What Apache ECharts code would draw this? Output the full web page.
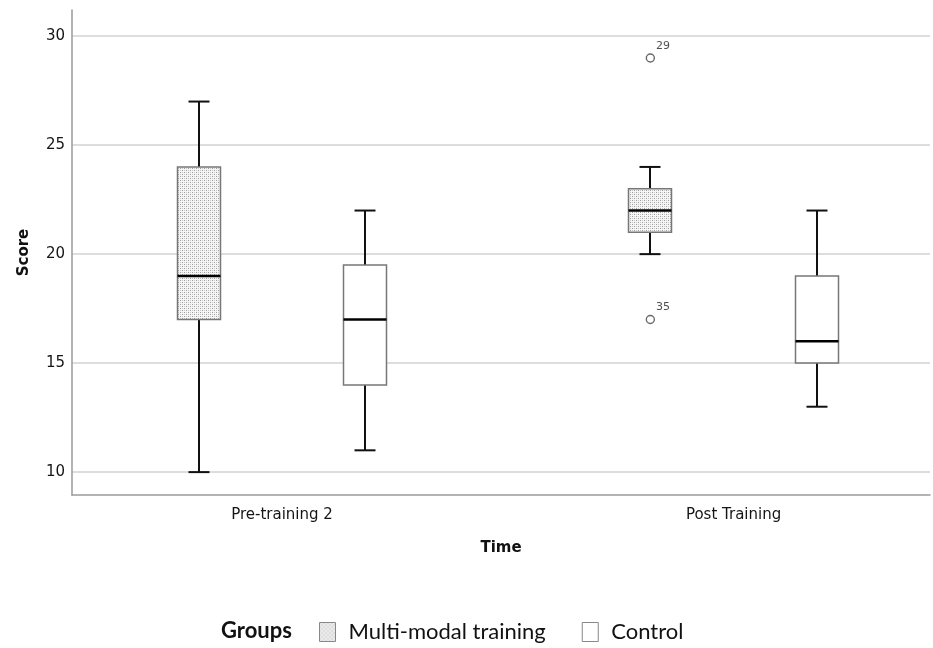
<!DOCTYPE html>
<html>
<head>
<meta charset="utf-8">
<script src="https://cdn.jsdelivr.net/npm/echarts@6/dist/echarts.min.js"></script>
<style>
  html, body { margin: 0; padding: 0; background: #ffffff; }
  #chart { width: 933px; height: 648px; }
</style>
</head>
<body>
<div id="chart"></div>
<script>
// Time points on the horizontal axis
const timeLabels = ['Pre-training 2', 'Post Training'];
// Group names
const groupNames = ['Multi-modal training', 'Control'];
// Five-number summaries per time point: [lower whisker, Q1, median, Q3, upper whisker]
const multiModalStats = [[10, 17, 19, 24, 27], [20, 21, 22, 23, 24]];
const controlStats = [[11, 14, 17, 19.5, 22], [13, 15, 16, 19, 22]];
// Outliers of the multi-modal group: [time index, score, case number]
const multiModalOutliers = [[1, 29, '29'], [1, 17, '35']];
// Score axis ticks
const scoreTicks = [10, 15, 20, 25, 30];

// Layout constants (axis units / pixels)
const GROUP_OFFSET = 0.1843;   // distance of each box from its time point
const BOX_HALF = 21.5;         // half box width, px
const CAP_HALF = 10.5;         // half whisker cap width, px
const AXIS_FONT = 'DejaVu Sans';

// Stippled fill used for the multi-modal boxes
function makeStipple() {
  const c = document.createElement('canvas');
  c.width = 4; c.height = 4;
  const g = c.getContext('2d');
  g.fillStyle = '#f6f6f6';
  g.fillRect(0, 0, 4, 4);
  g.fillStyle = '#9c9c9c';
  g.fillRect(0, 0, 1, 1);
  g.fillRect(2, 2, 1, 1);
  g.fillStyle = '#c9c9c9';
  g.fillRect(2, 0, 1, 1);
  g.fillRect(0, 2, 1, 1);
  return c;
}
const stipple = { type: 'pattern', image: makeStipple(), repeat: 'repeat' };

function toRows(stats) {
  return stats.map((s, i) => [i].concat(s));
}

function boxRenderer(offset, fill) {
  return function (params, api) {
    const x = api.value(0) + offset;
    const pMin = api.coord([x, api.value(1)]);
    const pQ1 = api.coord([x, api.value(2)]);
    const pMed = api.coord([x, api.value(3)]);
    const pQ3 = api.coord([x, api.value(4)]);
    const pMax = api.coord([x, api.value(5)]);
    const cx = Math.round(pMed[0]);
    const whisker = { stroke: '#111111', lineWidth: 2 };
    return {
      type: 'group',
      children: [
        { type: 'line', shape: { x1: cx, y1: pQ3[1], x2: cx, y2: pMax[1] }, style: whisker },
        { type: 'line', shape: { x1: cx, y1: pQ1[1], x2: cx, y2: pMin[1] }, style: whisker },
        { type: 'line', shape: { x1: cx - CAP_HALF, y1: pMax[1], x2: cx + CAP_HALF, y2: pMax[1] }, style: whisker },
        { type: 'line', shape: { x1: cx - CAP_HALF, y1: pMin[1], x2: cx + CAP_HALF, y2: pMin[1] }, style: whisker },
        {
          type: 'rect',
          shape: { x: cx - BOX_HALF, y: pQ3[1], width: BOX_HALF * 2, height: pQ1[1] - pQ3[1] },
          style: { fill: fill, stroke: '#777777', lineWidth: 1.5 }
        },
        {
          type: 'line',
          shape: { x1: cx - BOX_HALF, y1: pMed[1], x2: cx + BOX_HALF, y2: pMed[1] },
          style: { stroke: '#000000', lineWidth: 2.5 }
        }
      ]
    };
  };
}

const chart = echarts.init(document.getElementById('chart'), null, { renderer: 'canvas' });

const option = {
  backgroundColor: '#ffffff',
  animation: false,
  title: {
    text: 'Groups',
    left: 221,
    top: 620,
    padding: 0,
    textStyle: { fontFamily: 'Lato', fontWeight: 'bold', fontSize: 22, color: '#111111' }
  },
  legend: {
    left: 319,
    top: 621,
    padding: 0,
    itemWidth: 16,
    itemHeight: 19,
    itemGap: 36,
    textStyle: { fontFamily: 'Lato', fontSize: 22, color: '#111111', padding: [0, 0, 0, 8] },
    data: [
      { name: groupNames[0], icon: 'rect', itemStyle: { color: stipple, borderColor: '#888888', borderWidth: 1 } },
      { name: groupNames[1], icon: 'rect', itemStyle: { color: '#ffffff', borderColor: '#888888', borderWidth: 1 } }
    ]
  },
  grid: { left: 72, right: 3, top: 10, bottom: 153, outerBoundsMode: 'none' },
  xAxis: {
    type: 'value',
    min: -0.465,
    max: 1.435,
    name: 'Time',
    nameLocation: 'middle',
    nameGap: 46,
    nameTextStyle: { fontFamily: AXIS_FONT, fontWeight: 'bold', fontSize: 15, color: '#111111' },
    axisLine: { show: true, onZero: false, lineStyle: { color: '#9a9a9a', width: 1.5 } },
    axisTick: { show: false },
    splitLine: { show: false },
    axisLabel: {
      customValues: timeLabels.map((_, i) => i),
      formatter: v => timeLabels[Math.round(v)],
      margin: 13,
      fontFamily: AXIS_FONT,
      fontSize: 15,
      color: '#151515'
    }
  },
  yAxis: {
    type: 'value',
    min: 8.95,
    max: 31.2,
    name: 'Score',
    nameLocation: 'middle',
    nameGap: 40,
    nameTextStyle: { fontFamily: AXIS_FONT, fontWeight: 'bold', fontSize: 15, color: '#111111' },
    axisLine: { show: true, onZero: false, lineStyle: { color: '#9a9a9a', width: 1.5 } },
    axisTick: { show: false, customValues: scoreTicks },
    splitLine: { show: true, lineStyle: { color: '#d2d2d2', width: 1.5 } },
    axisLabel: {
      customValues: scoreTicks,
      margin: 7,
      fontFamily: AXIS_FONT,
      fontSize: 15,
      color: '#151515'
    }
  },
  series: [
    {
      name: groupNames[0],
      type: 'custom',
      renderItem: boxRenderer(-GROUP_OFFSET, stipple),
      encode: { x: 0, y: [1, 2, 3, 4, 5] },
      itemStyle: { color: stipple },
      data: toRows(multiModalStats),
      z: 3
    },
    {
      name: groupNames[1],
      type: 'custom',
      renderItem: boxRenderer(GROUP_OFFSET, '#ffffff'),
      encode: { x: 0, y: [1, 2, 3, 4, 5] },
      itemStyle: { color: '#ffffff' },
      data: toRows(controlStats),
      z: 3
    },
    {
      name: groupNames[0] + ' outliers',
      type: 'scatter',
      symbol: 'circle',
      symbolSize: 8,
      itemStyle: { color: '#ffffff', borderColor: '#444444', borderWidth: 1.4 },
      label: {
        show: true,
        position: 'right',
        offset: [-4, -12],
        formatter: p => p.value[2],
        fontFamily: AXIS_FONT,
        fontSize: 11,
        color: '#222222'
      },
      data: multiModalOutliers.map(o => [o[0] - GROUP_OFFSET, o[1], o[2]]),
      z: 4
    }
  ]
};

chart.setOption(option);
</script>
</body>
</html>
